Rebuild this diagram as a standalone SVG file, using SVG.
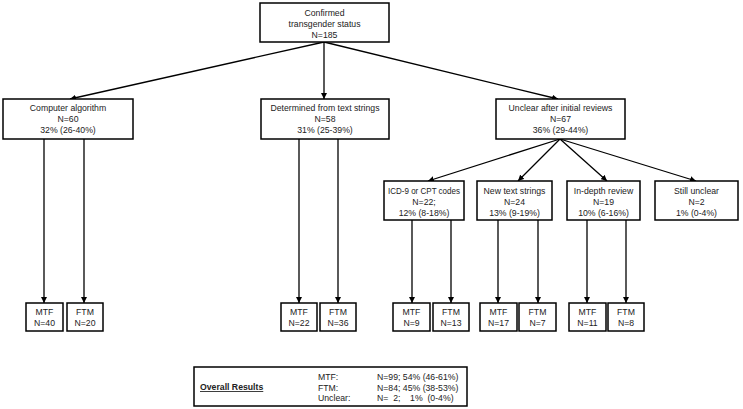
<svg xmlns="http://www.w3.org/2000/svg" width="743" height="409" viewBox="0 0 743 409">
<defs>
<marker id="ah" viewBox="0 0 10 10" refX="10" refY="5" markerWidth="6" markerHeight="6" markerUnits="userSpaceOnUse" orient="auto">
<path d="M0,0 L10,5 L0,10 z" fill="#000"/>
</marker>
</defs>
<style>
rect{fill:#fff;stroke:#000;stroke-width:1.5}
text{font-family:"Liberation Sans",Arial,sans-serif;font-size:8.7px;fill:#222;text-anchor:middle}
.l{text-anchor:start}
.b{font-weight:bold;text-decoration:underline}
#connectors line{stroke:#000;stroke-width:1.3;marker-end:url(#ah)}
</style>
<rect x="0" y="0" width="743" height="409" style="stroke:none"/>
<g id="connectors">
<line x1="324" y1="42" x2="70" y2="99"/>
<line x1="324" y1="42" x2="324" y2="99"/>
<line x1="324" y1="42" x2="558" y2="99"/>
<line x1="560" y1="139" x2="428" y2="181"/>
<line x1="560" y1="139" x2="518" y2="181"/>
<line x1="560" y1="139" x2="607" y2="181"/>
<line x1="560" y1="139" x2="696" y2="181"/>
<line x1="44" y1="139" x2="44" y2="303"/>
<line x1="84" y1="139" x2="84" y2="303"/>
<line x1="299" y1="139" x2="299" y2="303"/>
<line x1="338" y1="139" x2="338" y2="303"/>
<line x1="412" y1="220" x2="412" y2="303"/>
<line x1="451" y1="220" x2="451" y2="303"/>
<line x1="498" y1="220" x2="498" y2="303"/>
<line x1="538" y1="220" x2="538" y2="303"/>
<line x1="587" y1="220" x2="587" y2="303"/>
<line x1="626" y1="220" x2="626" y2="303"/>
</g>
<g id="root">
<rect x="260" y="3" width="129" height="39"/>
<text x="324.5" y="16">Confirmed</text>
<text x="324.5" y="27">transgender status</text>
<text x="324.5" y="38">N=185</text>
</g>
<g id="computer">
<rect x="3" y="99" width="130" height="40"/>
<text x="68" y="111">Computer algorithm</text>
<text x="68" y="122">N=60</text>
<text x="68" y="133">32% (26-40%)</text>
</g>
<g id="determined">
<rect x="261" y="99" width="128" height="40"/>
<text x="325" y="111">Determined from text strings</text>
<text x="325" y="122">N=58</text>
<text x="325" y="133">31% (25-39%)</text>
</g>
<g id="unclear">
<rect x="496" y="99" width="129" height="40"/>
<text x="560.5" y="111">Unclear after initial reviews</text>
<text x="560.5" y="122">N=67</text>
<text x="560.5" y="133">36% (29-44%)</text>
</g>
<g id="icd">
<rect x="384" y="181" width="80" height="39"/>
<text x="424" y="194" textLength="72" lengthAdjust="spacingAndGlyphs">ICD-9 or CPT codes</text>
<text x="424" y="205">N=22;</text>
<text x="424" y="216">12% (8-18%)</text>
</g>
<g id="newtext">
<rect x="477" y="181" width="75" height="39"/>
<text x="514.5" y="194">New text strings</text>
<text x="514.5" y="205">N=24</text>
<text x="514.5" y="216">13% (9-19%)</text>
</g>
<g id="indepth">
<rect x="567" y="181" width="73" height="39"/>
<text x="603.5" y="194">In-depth review</text>
<text x="603.5" y="205">N=19</text>
<text x="603.5" y="216">10% (6-16%)</text>
</g>
<g id="stillunclear">
<rect x="655" y="181" width="83" height="39"/>
<text x="696.5" y="194">Still unclear</text>
<text x="696.5" y="205">N=2</text>
<text x="696.5" y="216">1% (0-4%)</text>
</g>
<g id="mtf40"><rect x="26" y="303" width="37" height="28"/><text x="44.5" y="315">MTF</text><text x="44.5" y="326">N=40</text></g>
<g id="ftm20"><rect x="67" y="303" width="36" height="28"/><text x="85" y="315">FTM</text><text x="85" y="326">N=20</text></g>
<g id="mtf22"><rect x="281" y="303" width="36" height="28"/><text x="299" y="315">MTF</text><text x="299" y="326">N=22</text></g>
<g id="ftm36"><rect x="320" y="303" width="36" height="28"/><text x="338" y="315">FTM</text><text x="338" y="326">N=36</text></g>
<g id="mtf9"><rect x="393" y="303" width="37" height="28"/><text x="411.5" y="315">MTF</text><text x="411.5" y="326">N=9</text></g>
<g id="ftm13"><rect x="433" y="303" width="36" height="28"/><text x="451" y="315">FTM</text><text x="451" y="326">N=13</text></g>
<g id="mtf17"><rect x="480" y="303" width="37" height="28"/><text x="498.5" y="315">MTF</text><text x="498.5" y="326">N=17</text></g>
<g id="ftm7"><rect x="519" y="303" width="37" height="28"/><text x="537.5" y="315">FTM</text><text x="537.5" y="326">N=7</text></g>
<g id="mtf11"><rect x="569" y="303" width="37" height="28"/><text x="587.5" y="315">MTF</text><text x="587.5" y="326">N=11</text></g>
<g id="ftm8"><rect x="608" y="303" width="36" height="28"/><text x="626" y="315">FTM</text><text x="626" y="326">N=8</text></g>
<g id="overall">
<rect x="194" y="367" width="273" height="39"/>
<text class="l b" x="200" y="390">Overall Results</text>
<text class="l" x="318" y="380">MTF:</text>
<text class="l" x="318" y="390.5">FTM:</text>
<text class="l" x="318" y="401">Unclear:</text>
<text class="l" x="377" y="380">N=99; 54% (46-61%)</text>
<text class="l" x="377" y="390.5">N=84; 45% (38-53%)</text>
<text class="l" x="377" y="401" xml:space="preserve">N=  2;    1%  (0-4%)</text>
</g>
</svg>
